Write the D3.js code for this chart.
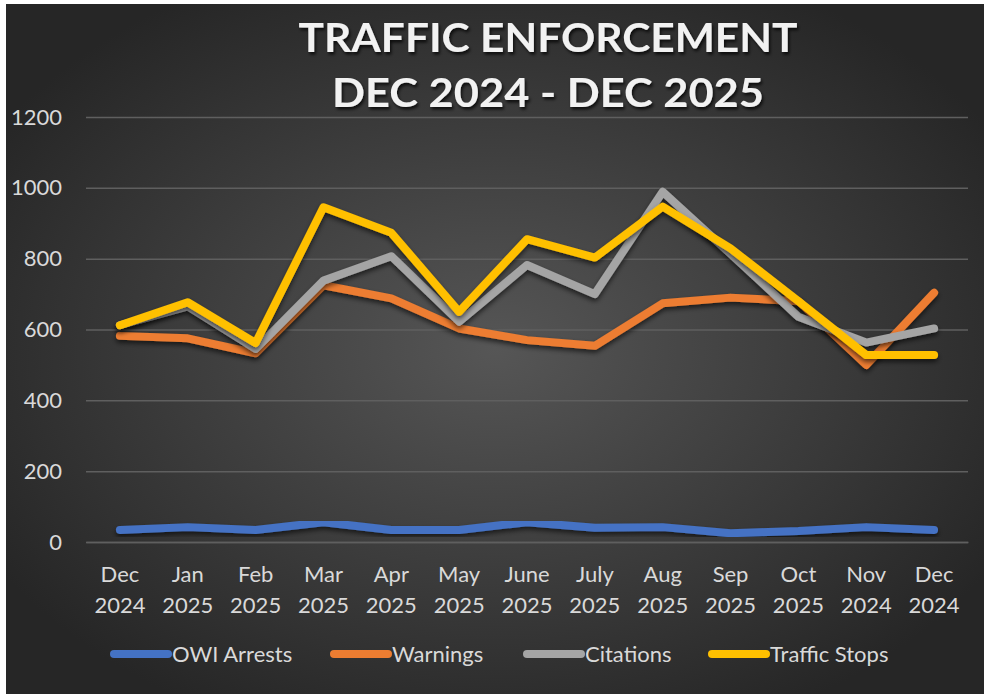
<!DOCTYPE html>
<html><head><meta charset="utf-8">
<script src="https://cdn.jsdelivr.net/npm/d3@7"></script>
<style>html,body{margin:0;padding:0;background:#fff;}svg{display:block;}</style>
</head><body>
<script>
const months = ["Dec|2024","Jan|2025","Feb|2025","Mar|2025","Apr|2025","May|2025","June|2025","July|2025","Aug|2025","Sep|2025","Oct|2025","Nov|2024","Dec|2024"];
const owiArrests   = [34, 42, 34, 56, 34, 34, 56, 40, 42, 25, 31, 42, 34];
const warnings     = [582, 575, 533, 725, 688, 603, 570, 554, 674, 690, 680, 500, 704];
const citations    = [612, 665, 545, 738, 807, 622, 782, 700, 989, 814, 636, 563, 603];
const trafficStops = [612, 677, 562, 945, 873, 650, 855, 803, 947, 829, 680, 528, 528];
const seriesNames  = ["OWI Arrests", "Warnings", "Citations", "Traffic Stops"];
const seriesColors = ["#4472c4", "#ed7d31", "#a5a5a5", "#ffc000"];
const yTicks = [0, 200, 400, 600, 800, 1000, 1200];
const titleLines = ["TRAFFIC ENFORCEMENT", "DEC 2024 - DEC 2025"];

const W = 984, H = 694;
const series = [owiArrests, warnings, citations, trafficStops].map((v, i) => ({name: seriesNames[i], color: seriesColors[i], values: v}));

const svg = d3.select("body").append("svg").attr("width", W).attr("height", H);
const defs = svg.append("defs");
const rg = defs.append("radialGradient").attr("id", "bg").attr("cx", "50%").attr("cy", "50%").attr("r", "60%");
rg.append("stop").attr("offset", "0%").attr("stop-color", "#565656");
rg.append("stop").attr("offset", "100%").attr("stop-color", "#262626");
const f = defs.append("filter").attr("id", "sh").attr("x", "-10%").attr("y", "-10%").attr("width", "120%").attr("height", "140%");
f.append("feDropShadow").attr("dx", 0).attr("dy", 3).attr("stdDeviation", 2.5).attr("flood-color", "#000").attr("flood-opacity", 0.6);
const ft = defs.append("filter").attr("id", "tsh").attr("x", "-10%").attr("y", "-20%").attr("width", "120%").attr("height", "150%");
ft.append("feDropShadow").attr("dx", 1.5).attr("dy", 2.5).attr("stdDeviation", 1.5).attr("flood-color", "#000").attr("flood-opacity", 0.75);

svg.append("rect").attr("x", 6).attr("y", 4).attr("width", W - 6).attr("height", H - 4).attr("fill", "url(#bg)");

const margin = {left: 86, right: 968, top: 117, bottom: 542};
const idx = months.map((m, i) => i);
const x = d3.scaleBand().domain(idx).range([margin.left, margin.right]);
const y = d3.scaleLinear().domain([0, 1200]).range([margin.bottom, margin.top]);

// grid
const yAxis = d3.axisLeft(y).tickValues(yTicks).tickFormat(d3.format("d")).tickSize(-(margin.right - margin.left)).tickPadding(24);
const gy = svg.append("g").attr("transform", `translate(${margin.left},0)`).call(yAxis);
gy.select(".domain").remove();
gy.selectAll(".tick line").attr("stroke", "#5f5f5f").attr("stroke-width", 1.5);
gy.selectAll(".tick text").attr("fill", "#d9d9d9").attr("font-family", "Lato, 'Open Sans', sans-serif").attr("font-size", 22);

// x axis
const xAxis = d3.axisBottom(x).tickSize(0).tickFormat(() => "");
const gx = svg.append("g").attr("transform", `translate(0,${margin.bottom})`).call(xAxis);
gx.select(".domain").attr("stroke", "#5f5f5f").attr("stroke-width", 1.5);
gx.selectAll(".tick").each(function(d) {
  const parts = months[d].split("|");
  const t = d3.select(this).append("text").attr("fill", "#d9d9d9").attr("text-anchor", "middle")
    .attr("font-family", "Lato, 'Open Sans', sans-serif").attr("font-size", 22);
  t.append("tspan").attr("x", 0).attr("y", 40).text(parts[0]);
  t.append("tspan").attr("x", 0).attr("y", 71).text(parts[1]);
});

// lines
const line = d3.line().x((d, i) => x(i) + x.bandwidth() / 2).y(d => y(d));
svg.append("g").selectAll("path").data(series).join("path")
  .attr("d", d => line(d.values)).attr("fill", "none").attr("stroke", d => d.color)
  .attr("stroke-width", 8).attr("stroke-linejoin", "round").attr("stroke-linecap", "round")
  .attr("filter", "url(#sh)");

// title
const tg = svg.append("g").attr("filter", "url(#tsh)");
const tw = [499, 432];
titleLines.forEach((s, i) => {
  tg.append("text").attr("x", 548).attr("y", 52 + i * 55).attr("text-anchor", "middle")
    .attr("fill", "#f2f2f2").attr("font-family", "Lato, 'Open Sans', sans-serif").attr("font-weight", "bold")
    .attr("font-size", 40).attr("textLength", tw[i]).attr("lengthAdjust", "spacingAndGlyphs").text(s);
});

// legend
const legX = [110, 330, 523, 708];
const lg = svg.append("g");
series.forEach((s, i) => {
  const g = lg.append("g").attr("transform", `translate(${legX[i]},654)`);
  g.append("line").attr("x1", 4).attr("x2", 58).attr("y1", 0).attr("y2", 0)
    .attr("stroke", s.color).attr("stroke-width", 8).attr("stroke-linecap", "round");
  g.append("text").attr("x", 62).attr("y", 8).attr("fill", "#d9d9d9")
    .attr("font-family", "Lato, 'Open Sans', sans-serif").attr("font-size", 22).text(s.name);
});
</script>
</body></html>
